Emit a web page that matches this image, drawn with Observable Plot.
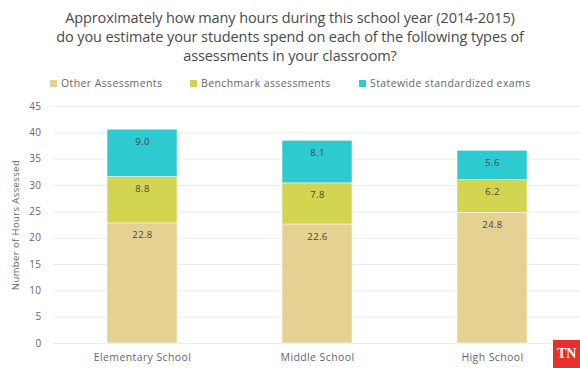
<!DOCTYPE html>
<html>
<head>
<meta charset="utf-8">
<script src="https://cdn.jsdelivr.net/npm/d3@7"></script>
<script src="https://cdn.jsdelivr.net/npm/@observablehq/plot@0.6"></script>
<style>
  html, body { margin: 0; padding: 0; background: #fff; }
  body { width: 580px; height: 368px; overflow: hidden; position: relative; font-family: "Open Sans", sans-serif; }
  #title { position: absolute; left: 0; top: 8px; width: 580px; text-align: center; font-size: 14.5px; line-height: 19px; color: #4a4a4a; letter-spacing: -0.1px; }
  #legend { position: absolute; top: 76px; left: 0; width: 580px; height: 14px; font-size: 10.5px; color: #666; letter-spacing: 0.4px; }
  .item { position: absolute; top: 0; display: flex; align-items: center; }
  .sw { width: 7px; height: 7px; margin-right: 4px; }
  #chart { position: absolute; left: 0; top: 95px; }
  #tn { position: absolute; left: 553px; top: 340px; width: 30px; height: 28px; background: #e8302a; color: #fff; font-weight: bold; font-size: 14px; line-height: 28px; padding-left: 4px; box-sizing: border-box; font-family: "Liberation Serif", serif; }
</style>
</head>
<body>
<div id="title">Approximately how many hours during this school year (2014-2015)<br>do you estimate your students spend on each of the following types of<br>assessments in your classroom?</div>
<div id="legend"></div>
<div id="chart"></div>
<div id="tn">TN</div>
<script>
const categories = ["Elementary School", "Middle School", "High School"];
const seriesNames = ["Other Assessments", "Benchmark assessments", "Statewide standardized exams"];
const legendLabels = ["Other Assessments", "Benchmark assessments", "Statewide standardized exams"];
const otherValues = [22.8, 22.6, 24.8];
const benchmarkValues = [8.8, 7.8, 6.2];
const statewideValues = [9.0, 8.1, 5.6];
const colors = ["#e5d192", "#d3d44f", "#2ecad2"];
const yTicks = [0, 5, 10, 15, 20, 25, 30, 35, 40, 45];
const yLabel = "Number of Hours Assessed";

const seriesValues = [otherValues, benchmarkValues, statewideValues];
const data = [];
categories.forEach((c, i) => {
  seriesNames.forEach((s, j) => {
    data.push({category: c, series: s, value: seriesValues[j][i]});
  });
});

const legendX = [50, 190, 359];
const legend = document.getElementById("legend");
legendLabels.forEach((l, j) => {
  const it = document.createElement("div");
  it.className = "item";
  it.style.left = legendX[j] + "px";
  it.innerHTML = `<span class="sw" style="background:${colors[j]}"></span><span>${l}</span>`;
  legend.appendChild(it);
});

const chart = Plot.plot({
  width: 580,
  height: 273,
  marginLeft: 53,
  marginRight: 0,
  marginTop: 11,
  marginBottom: 25,
  style: {fontFamily: "Open Sans, sans-serif", fontSize: "10.5px", color: "#666", background: "#fff", letterSpacing: "0.4px"},
  x: {domain: categories, paddingInner: 0.6, paddingOuter: 0.3},
  y: {domain: [0, 45]},
  color: {domain: seriesNames, range: colors},
  marks: [
    Plot.gridY(yTicks, {stroke: "#ececec", strokeOpacity: 1, strokeWidth: 1}),
    Plot.axisY(yTicks, {tickSize: 0, tickPadding: 12, label: null, fontSize: 10}),
    Plot.axisX({tickSize: 0, tickPadding: 10, label: null}),
    Plot.text([yLabel], {frameAnchor: "left", textAnchor: "middle", rotate: -90, dx: -38, fontSize: 9.5, fill: "#666", text: d => d}),
    Plot.barY(data, {x: "category", y: "value", fill: "series", z: "series", stroke: "#fff", strokeWidth: 0.5}),
    Plot.text(data, Plot.stackY2({x: "category", y: "value", z: "series", text: d => d.value.toFixed(1), dy: 12, fill: "#444", fontSize: 9.5}))
  ]
});
document.getElementById("chart").appendChild(chart);
</script>
</body>
</html>
